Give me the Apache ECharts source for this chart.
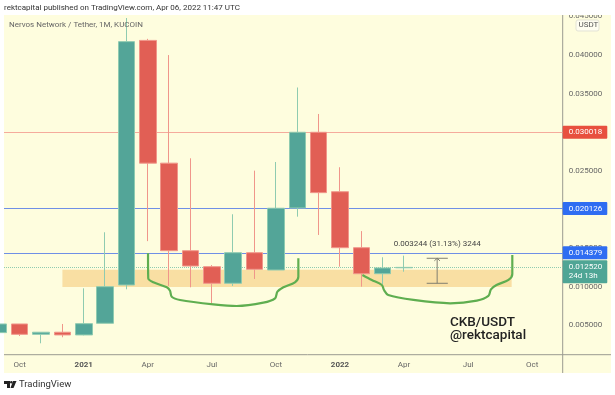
<!DOCTYPE html>
<html>
<head>
<meta charset="utf-8">
<title>CKB/USDT</title>
<script src="https://cdn.jsdelivr.net/npm/echarts@6/dist/echarts.min.js"></script>
<style>
  html, body { margin: 0; padding: 0; background: #fff; }
  #chart { width: 615px; height: 395px; }
</style>
</head>
<body>
<div id="chart"></div>
<script>
// x is a month index, Oct 2020 = 0. Each row: month, open, close, low, high
const candles = [
  [-1, 0.00405, 0.00517, 0.00405, 0.00517],
  [0, 0.00517, 0.00383, 0.00361, 0.00517],
  [1, 0.00383, 0.0041, 0.00267, 0.0041],
  [2, 0.0041, 0.00375, 0.00345, 0.00517],
  [3, 0.00375, 0.00521, 0.0037, 0.00979],
  [4, 0.00526, 0.01, 0.00526, 0.01705],
  [5, 0.01022, 0.04174, 0.00966, 0.0448],
  [6, 0.0419, 0.026, 0.0159, 0.0421],
  [7, 0.026, 0.01466, 0.0101, 0.04],
  [8, 0.01466, 0.01268, 0.00992, 0.02663],
  [9, 0.01259, 0.01044, 0.00785, 0.0128],
  [10, 0.01044, 0.0144, 0.0101, 0.01938],
  [11, 0.0144, 0.01225, 0.011, 0.02503],
  [12, 0.01216, 0.02016, 0.01216, 0.02615],
  [13, 0.0202, 0.03, 0.01907, 0.0358],
  [14, 0.03, 0.02218, 0.0167, 0.03237],
  [15, 0.0223, 0.01505, 0.01259, 0.02547],
  [16, 0.01505, 0.01168, 0.01, 0.0172],
  [17, 0.01168, 0.01242, 0.01035, 0.01381],
  [18, 0.01245, 0.0125, 0.01194, 0.01402],
];
const monthTicks = [0, 3, 6, 9, 12, 15, 18, 21, 24];
const monthLabels = ["Oct", "2021", "Apr", "Jul", "Oct", "2022", "Apr", "Jul", "Oct"];
const priceTicks = [0.005, 0.01, 0.015, 0.025, 0.035, 0.04, 0.045];
const curveLeft = [
  [6.01, 0.01433], [6.02, 0.01109], [6.26, 0.01057], [6.89, 0.00992], [7.04, 0.00948],
  [7.12, 0.0087], [7.51, 0.00828], [9.07, 0.00772], [10.16, 0.0075], [11.41, 0.00793],
  [11.96, 0.0085], [12.07, 0.00935], [12.35, 0.00992], [12.89, 0.01057], [13.05, 0.0113], [13.05, 0.01368],
];
const curveRight = [
  [16.05, 0.01152], [16.49, 0.01087], [16.96, 0.01022], [17.06, 0.00957], [17.26, 0.00892],
  [18.44, 0.00828], [20.16, 0.00785], [21.41, 0.00819], [21.95, 0.0088], [22.07, 0.00966],
  [22.33, 0.01022], [22.89, 0.01087], [23.07, 0.01165], [23.07, 0.01411],
];
const measure = [
  [19.06, 0.01368], [20.05, 0.01368], null,
  [19.06, 0.01044], [20.05, 0.01044], null,
  [19.55, 0.01368], [19.55, 0.01044], null,
  [19.42, 0.01335], [19.55, 0.01368], [19.68, 0.01335],
];
const zone = { fromMonth: 2, toMonth: 23.04, low: 0.00996, high: 0.0122 };
const redLevel = 0.030018;
const blueLevels = [0.020126, 0.014379];
const lastPrice = 0.01252;

const chart = echarts.init(document.getElementById("chart"), null, { renderer: "canvas" });
const font = "Roboto";

function levelLine(value, lineColor, badgeColor, text) {
  return {
    yAxis: value,
    lineStyle: { color: lineColor, width: 1.2, type: "solid", opacity: 1 },
    label: {
      show: true, position: "end", distance: 0, formatter: text, color: "#fff",
      backgroundColor: badgeColor, borderRadius: 1, padding: [2, 5, 2, 6],
      fontFamily: font, fontSize: 8, lineHeight: 9,
    },
  };
}

function curveSeries(points) {
  return {
    type: "line", data: points, smooth: 0.3, showSymbol: false, silent: true, z: 4,
    lineStyle: { color: "#5fae50", width: 2.2 },
  };
}

const option = {
  animation: false,
  backgroundColor: "#fff",
  grid: { left: 4, right: 52.3, top: 15, bottom: 40.3 },
  xAxis: {
    type: "value",
    min: -0.735,
    max: 25.43,
    splitLine: { show: false },
    axisLine: { show: false },
    axisTick: { show: false },
    axisLabel: {
      customValues: monthTicks,
      margin: 6,
      formatter: (v) => {
        const text = monthLabels[monthTicks.indexOf(v)];
        return text.length === 4 ? "{year|" + text + "}" : text;
      },
      color: "#666",
      fontFamily: font,
      fontSize: 8,
      rich: { year: { fontFamily: font, fontSize: 8, fontWeight: "bold", color: "#555" } },
    },
  },
  yAxis: {
    type: "value",
    position: "right",
    min: 0.00119,
    max: 0.04519,
    splitLine: { show: false },
    axisLine: { show: false },
    axisTick: { show: false },
    axisLabel: {
      customValues: priceTicks,
      margin: 6,
      formatter: (v) => v.toFixed(6),
      color: "#666",
      fontFamily: font,
      fontSize: 8,
    },
  },
  series: [
    {
      type: "candlestick",
      data: candles,
      barWidth: 17,
      z: 3,
      itemStyle: {
        color: "#53a598",
        color0: "#e15f55",
        borderColor: "#8fcbb0",
        borderColor0: "#f0968a",
        borderWidth: 1,
      },
      markArea: {
        silent: true,
        z: 1,
        itemStyle: { color: "#f9dfa3" },
        data: [[
          { coord: [zone.fromMonth, zone.high] },
          { coord: [zone.toMonth, zone.low] },
        ]],
      },
      markLine: {
        silent: true,
        z: 2,
        symbol: "none",
        precision: 6,
        data: [
          levelLine(redLevel, "#f5ab9c", "#e8503f", redLevel.toFixed(6)),
          levelLine(blueLevels[0], "#6f8fe6", "#2f6df2", blueLevels[0].toFixed(6)),
          levelLine(blueLevels[1], "#6f8fe6", "#2f6df2", blueLevels[1].toFixed(6)),
          {
            yAxis: lastPrice,
            lineStyle: { color: "#8fcbb0", width: 1, type: "dotted", opacity: 1 },
            label: {
              show: true, position: "end", distance: 0, offset: [0, 4.5],
              formatter: lastPrice.toFixed(6) + "\n24d 13h", color: "#fff",
              backgroundColor: "#4fa595", borderRadius: 1, padding: [2, 5, 2, 6],
              fontFamily: font, fontSize: 8, lineHeight: 9.5,
            },
          },
        ],
      },
    },
    curveSeries(curveLeft),
    curveSeries(curveRight),
    {
      type: "line",
      data: measure,
      showSymbol: false,
      silent: true,
      connectNulls: false,
      z: 4,
      lineStyle: { color: "#807f70", width: 1 },
      markPoint: {
        symbol: "circle",
        symbolSize: 0,
        silent: true,
        data: [{
          coord: [19.55, 0.01557],
          label: { show: true, position: "inside", formatter: "0.003244 (31.13%) 3244",
            color: "#444", fontFamily: font, fontSize: 8 },
        }],
      },
    },
  ],
  graphic: [
    { type: "rect", z: -10, shape: { x: 4, y: 15, width: 607, height: 358 }, style: { fill: "#fefdde" } },
    { type: "line", z: 1, shape: { x1: 4, y1: 354.7, x2: 611, y2: 354.7 }, style: { stroke: "#9a9a90", lineWidth: 1 } },
    { type: "line", z: 1, shape: { x1: 562.7, y1: 15, x2: 562.7, y2: 373 }, style: { stroke: "#9a9a90", lineWidth: 1 } },
    { type: "rect", z: 50, shape: { x: 0, y: 0, width: 615, height: 15 }, style: { fill: "#fff" } },
    { type: "text", z: 51, x: 4, y: 4, style: { text: "rektcapital published on TradingView.com, Apr 06, 2022 11:47 UTC", fill: "#333", font: "8px Roboto" } },
    { type: "text", z: 51, x: 9, y: 21, style: { text: "Nervos Network / Tether, 1M, KUCOIN", fill: "#666", font: "8px Roboto" } },
    { type: "rect", z: 51, shape: { x: 576, y: 20, width: 23, height: 11, r: 2 }, style: { fill: "#fefdf0", stroke: "#e3e3d5", lineWidth: 1 } },
    { type: "text", z: 52, x: 578.5, y: 21, style: { text: "USDT", fill: "#555", font: "8px Roboto" } },
    { type: "text", z: 51, x: 450, y: 315.5, style: { text: "CKB/USDT", fill: "#222", font: "500 13.5px Roboto" } },
    { type: "text", z: 51, x: 450, y: 329, style: { text: "@rektcapital", fill: "#222", font: "500 13.5px Roboto" } },
    { type: "polygon", z: 51, shape: { points: [[4, 381], [10, 381], [10, 388], [7, 388], [7, 384], [4, 384]] }, style: { fill: "#222" } },
    { type: "circle", z: 51, shape: { cx: 11.3, cy: 382.2, r: 1.2 }, style: { fill: "#222" } },
    { type: "polygon", z: 51, shape: { points: [[13, 381], [16.5, 381], [13.5, 388], [10.5, 388]] }, style: { fill: "#222" } },
    { type: "text", z: 51, x: 19, y: 379.5, style: { text: "TradingView", fill: "#333", font: "9.5px Roboto" } },
  ],
};
chart.setOption(option);
</script>
</body>
</html>
